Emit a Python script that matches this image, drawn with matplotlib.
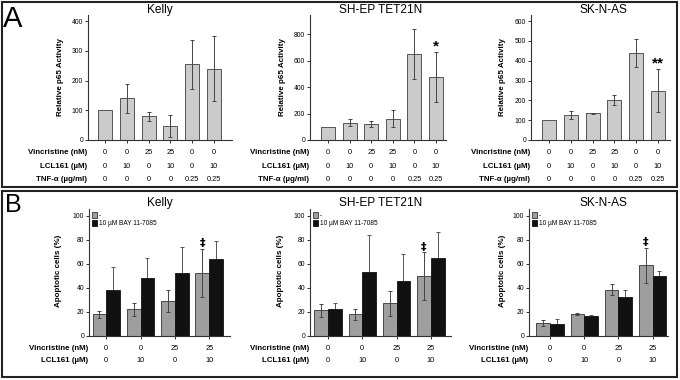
import matplotlib
matplotlib.use("Agg")
import matplotlib.pyplot as plt
from matplotlib.patches import Rectangle
import numpy as np

plt.rcParams['font.family'] = ['Liberation Sans', 'DejaVu Sans']

# ---------------- data ----------------
cells = ["Kelly", "SH-EP TET21N", "SK-N-AS"]

# Panel A: relative p65 activity
a_vincristine = ["0", "0", "25", "25", "0", "0"]
a_lcl161 = ["0", "10", "0", "10", "0", "10"]
a_tnf = ["0", "0", "0", "0", "0.25", "0.25"]

kelly_p65 = [100, 140, 80, 47, 255, 240]
kelly_p65_err = [0, 48, 15, 36, 83, 110]
shep_p65 = [100, 132, 120, 162, 652, 475]
shep_p65_err = [0, 23, 20, 62, 190, 188]
sknas_p65 = [100, 128, 134, 200, 439, 249]
sknas_p65_err = [0, 20, 3, 25, 70, 108]

a_ylims = [421, 945, 631]
a_yticks = [[0, 100, 200, 300, 400], [0, 200, 400, 600, 800],
            [0, 100, 200, 300, 400, 500, 600]]
a_marks = ["", "*", "**"]  # significance mark above last bar

# Panel B: apoptotic cells (%)
b_vincristine = ["0", "0", "25", "25"]
b_lcl161 = ["0", "10", "0", "10"]
b_series = ["-", "10 µM BAY 11-7085"]

kelly_ctrl = [17.8, 21.9, 28.9, 52.5]
kelly_ctrl_err = [3.1, 5.5, 9.5, 20]
kelly_bay = [38, 47.8, 51.9, 63.6]
kelly_bay_err = [19, 17, 21.7, 15.3]
shep_ctrl = [21.2, 17.8, 27.2, 49.7]
shep_ctrl_err = [5.5, 4.8, 10.4, 19.6]
shep_bay = [22, 52.8, 45.8, 64.4]
shep_bay_err = [5.5, 31, 22, 21.6]
sknas_ctrl = [10.6, 18, 38.3, 58.6]
sknas_ctrl_err = [2.2, 0.6, 4.7, 14.4]
sknas_bay = [10, 16.4, 32.5, 50]
sknas_bay_err = [3.9, 0.6, 5.3, 3.6]
b_yticks = [0, 20, 40, 60, 80, 100]

# ---------------- figure ----------------
W, H = 680, 380
fig = plt.figure(figsize=(W / 100, H / 100), dpi=100)
fig.patch.set_facecolor("white")


def px_axes(x0, y0, x1, y1):
    return fig.add_axes([x0 / W, 1 - y1 / H, (x1 - x0) / W, (y1 - y0) / H])


def style(ax):
    for s in ["top", "right"]:
        ax.spines[s].set_visible(False)
    for s in ["left", "bottom"]:
        ax.spines[s].set_color("#333333")
        ax.spines[s].set_linewidth(0.8)
    ax.tick_params(axis="both", direction="out", length=2.5, width=0.7,
                   color="#333333", labelsize=4.9, pad=1)
    ax.set_xticklabels([])


def ftext(x, y, s, **kw):
    fig.text(x / W, 1 - y / H, s, **kw)


# panel frames
fig.patches.append(Rectangle((2 / W, 1 - 187 / H), 675 / W, 185 / H,
                             transform=fig.transFigure, fill=False,
                             edgecolor="#222222", linewidth=1.5))
fig.patches.append(Rectangle((2 / W, 1 - 377 / H), 675 / W, 186 / H,
                             transform=fig.transFigure, fill=False,
                             edgecolor="#222222", linewidth=1.5))
ftext(3, 27, "A", fontsize=21, va="baseline", ha="left")
ftext(5, 212, "B", fontsize=18, va="baseline", ha="left")

# ---------------- Panel A ----------------
a_vals = [kelly_p65, shep_p65, sknas_p65]
a_errs = [kelly_p65_err, shep_p65_err, sknas_p65_err]
a_boxes = [(88, 232, 105, 21.8), (310, 446, 328, 21.6), (531, 670, 549, 21.8)]
a_title_x = [160, 381, 603]
a_ylab_x = [61, 283, 503]
a_rows = [("Vincristine (nM)", a_vincristine, 153),
          ("LCL161 (µM)", a_lcl161, 166.5),
          ("TNF-α (µg/ml)", a_tnf, 180)]

for i in range(3):
    x0, x1, c0, sp = a_boxes[i]
    ax = px_axes(x0, 15, x1, 140)
    x = np.arange(len(a_vals[i]))
    ax.bar(x, a_vals[i], width=0.64, color="#cbcbcb", edgecolor="#555555",
           linewidth=0.7, zorder=2)
    err = np.array(a_errs[i])
    mask = err > 0
    ax.errorbar(x[mask], np.array(a_vals[i])[mask], yerr=err[mask], fmt="none",
                ecolor="#444444", elinewidth=0.7, capsize=1.5, capthick=0.7,
                zorder=3)
    ax.set_xlim((x0 - c0) / sp, (x1 - c0) / sp)
    ax.set_ylim(0, a_ylims[i])
    ax.set_yticks(a_yticks[i])
    ax.set_xticks(x)
    style(ax)
    if a_marks[i]:
        j = len(x) - 1
        ax.annotate(a_marks[i], (x[j], a_vals[i][j] + err[j]),
                    xytext=(0, -1), textcoords="offset points",
                    ha="center", va="bottom", fontsize=11, fontweight="bold",
                    linespacing=1)
    ftext(a_title_x[i], 13, cells[i], fontsize=8.6, ha="center", va="baseline")
    ftext(a_ylab_x[i], 77, "Relative p65 Activity", fontsize=5.8,
          fontweight="bold", rotation=90, ha="center", va="center")
    for label, vals, yy in a_rows:
        ftext(x0 - 1, yy, label, fontsize=5.7, fontweight="bold",
              ha="right", va="center")
        for k, v in enumerate(vals):
            ftext(c0 + sp * k, yy, v, fontsize=5.3, ha="center", va="center")

# ---------------- Panel B ----------------
b_ctrl = [kelly_ctrl, shep_ctrl, sknas_ctrl]
b_ctrl_err = [kelly_ctrl_err, shep_ctrl_err, sknas_ctrl_err]
b_bay = [kelly_bay, shep_bay, sknas_bay]
b_bay_err = [kelly_bay_err, shep_bay_err, sknas_bay_err]
b_boxes = [(89, 230, 106.3, 34.3), (310, 451, 328, 34.3), (529, 668, 550, 34.2)]
b_title_x = [160, 381, 603]
b_ylab_x = [58, 280, 503]
b_rows = [("Vincristine (nM)", b_vincristine, 348),
          ("LCL161 (µM)", b_lcl161, 360.5)]

for i in range(3):
    x0, x1, c0, sp = b_boxes[i]
    ax = px_axes(x0, 209, x1, 335.7)
    x = np.arange(len(b_ctrl[i]))
    w = 0.4
    ax.bar(x - w / 2, b_ctrl[i], width=w, color="#9e9e9e", edgecolor="#333333",
           linewidth=0.6, zorder=2, label=b_series[0])
    ax.bar(x + w / 2, b_bay[i], width=w, color="#111111", edgecolor="#111111",
           linewidth=0.6, zorder=2, label=b_series[1])
    ax.errorbar(x - w / 2, b_ctrl[i], yerr=b_ctrl_err[i], fmt="none",
                ecolor="#444444", elinewidth=0.7, capsize=1.2, capthick=0.7,
                zorder=3)
    ax.errorbar(x + w / 2, b_bay[i], yerr=b_bay_err[i], fmt="none",
                ecolor="#555555", elinewidth=0.7, capsize=1.2, capthick=0.7,
                zorder=1)
    ax.set_xlim((x0 - c0) / sp, (x1 - c0) / sp)
    ax.set_ylim(0, 105.5)
    ax.set_yticks(b_yticks)
    ax.set_xticks(x)
    style(ax)
    j = len(x) - 1
    ax.annotate("‡", (x[j] - w / 2, b_ctrl[i][j] + b_ctrl_err[i][j]),
                xytext=(0, 0.5), textcoords="offset points",
                ha="center", va="bottom", fontsize=8, fontweight="bold",
                family=["DejaVu Sans"])
    leg = ax.legend(loc="upper left", bbox_to_anchor=(0.0, 1.0), frameon=False,
                    fontsize=4.7, handlelength=0.7, handleheight=0.9,
                    handletextpad=0.3, labelspacing=0.15, borderaxespad=0.3,
                    borderpad=0.2)
    ftext(b_title_x[i], 206, cells[i], fontsize=8.6, ha="center", va="baseline")
    ftext(b_ylab_x[i], 271, "Apoptotic cells (%)", fontsize=5.8,
          fontweight="bold", rotation=90, ha="center", va="center")
    for label, vals, yy in b_rows:
        ftext(x0 - 1, yy, label, fontsize=5.7, fontweight="bold",
              ha="right", va="center")
        for k, v in enumerate(vals):
            ftext(c0 + sp * k, yy, v, fontsize=5.3, ha="center", va="center")

fig.savefig("out.png", dpi=100)
